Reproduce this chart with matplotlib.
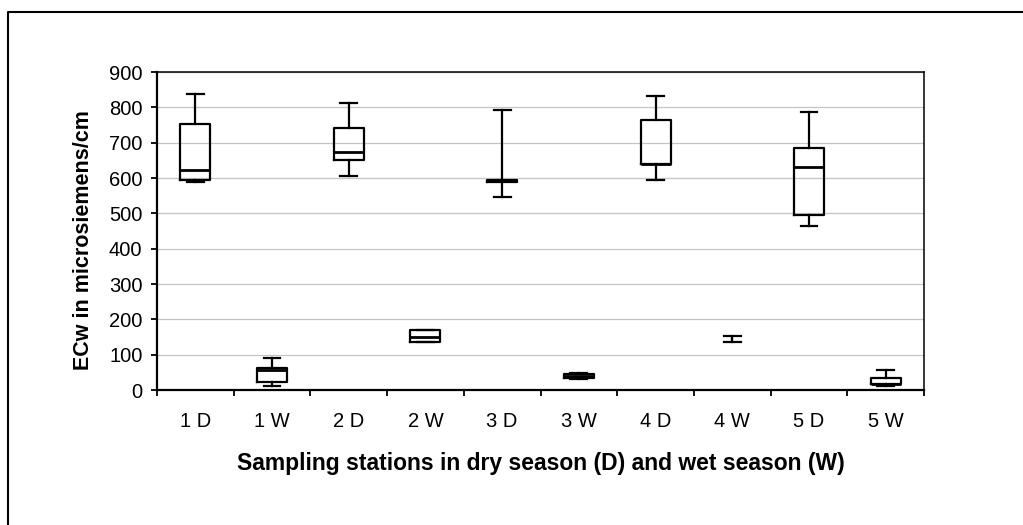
import matplotlib
matplotlib.use("Agg")
import matplotlib.pyplot as plt
from matplotlib.lines import Line2D

# values (ECw, microsiemens/cm)
labels = ["1 D", "1 W", "2 D", "2 W", "3 D", "3 W", "4 D", "4 W", "5 D", "5 W"]
mins = [589, 12, 605, 136, 545, 30, 595, 136, 465, 12]
q1s = [595, 23, 652, 136, 589, 35, 639, 145, 494, 16]
medians = [622, 57, 675, 149, 592, 40, 640, 145, 630, 18]
q3s = [753, 62, 742, 171, 595, 45, 765, 145, 686, 34]
maxs = [839, 91, 811, 171, 793, 48, 833, 153, 788, 57]
no_box = ["4 W"]  # only the whisker is visible for this one

plt.rcParams["font.family"] = ["Liberation Sans", "DejaVu Sans"]

fig = plt.figure(figsize=(10.23, 5.25), dpi=100)
ax = fig.add_axes([157 / 1023, 1 - 390 / 525, (924 - 157) / 1023, (390 - 72) / 525])

stats = []
for lab, lo, a, m, b, hi in zip(labels, mins, q1s, medians, q3s, maxs):
    stats.append({"label": lab, "whislo": lo, "q1": a, "med": m, "q3": b, "whishi": hi, "fliers": []})

lw = 1.6
res = ax.bxp(stats, positions=range(len(labels)), widths=0.39, capwidths=0.22,
             showfliers=False, patch_artist=False,
             boxprops=dict(color="black", linewidth=lw),
             whiskerprops=dict(color="black", linewidth=lw),
             capprops=dict(color="black", linewidth=lw),
             medianprops=dict(color="black", linewidth=lw + 0.4))
for i, lab in enumerate(labels):
    if lab in no_box:
        res["boxes"][i].set_visible(False)
        res["medians"][i].set_visible(False)

ax.set_xlim(-0.5, len(labels) - 0.5)
ax.set_ylim(0, 900)
ax.set_yticks(range(0, 901, 100))
ax.yaxis.grid(True, color="#c4c4c4", linewidth=0.9)
ax.set_axisbelow(True)

# ticks between the categories, labels under the centres
ax.set_xticks([i - 0.5 for i in range(len(labels) + 1)])
ax.set_xticklabels([])
ax.set_xticks(range(len(labels)), minor=True)
ax.set_xticklabels(labels, minor=True)
ax.tick_params(axis="x", which="major", length=4.5, width=1.3, direction="out")
ax.tick_params(axis="x", which="minor", length=0, pad=16, labelsize=14.5)
ax.tick_params(axis="y", length=4.5, width=1.3, direction="out", labelsize=14.5, pad=6)

for s in ax.spines.values():
    s.set_color("black")
    s.set_linewidth(1.1)
ax.spines["left"].set_linewidth(1.6)
ax.spines["bottom"].set_linewidth(1.6)

ax.set_ylabel("ECw in microsiemens/cm", fontsize=15.5, fontweight="bold")
ax.yaxis.set_label_coords(-0.082, 0.472)
ax.set_xlabel("Sampling stations in dry season (D) and wet season (W)",
              fontsize=16.5, fontweight="bold", labelpad=15)

# chart frame (cropped: only left and top edges show)
bx = 7.5 / 1023
by = 1 - 11.5 / 525
fig.add_artist(Line2D([bx, bx, 1.0], [0.0, by, by], transform=fig.transFigure,
                      color="black", linewidth=1.5))

fig.savefig("out.png", dpi=100)
